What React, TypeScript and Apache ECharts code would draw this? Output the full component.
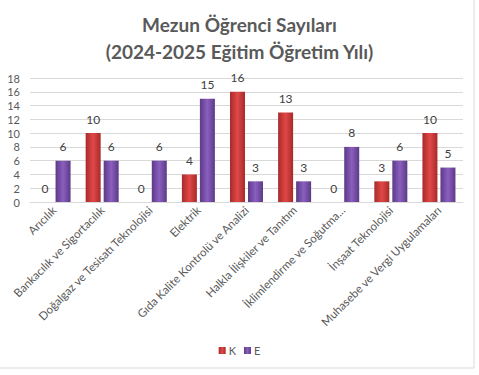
import React, { useEffect, useRef } from "react";
import * as echarts from "echarts";

const categories = [
  "Arıcılık",
  "Bankacılık ve Sigortacılık",
  "Doğalgaz ve Tesisatı Teknolojisi",
  "Elektrik",
  "Gıda Kalite Kontrolü ve Analizi",
  "Halkla İlişkiler ve Tanıtım",
  "İklimlendirme ve Soğutma...",
  "İnşaat Teknolojisi",
  "Muhasebe ve Vergi Uygulamaları",
];
const kValues = [0, 10, 0, 4, 16, 13, 0, 3, 10];
const eValues = [6, 6, 6, 15, 3, 3, 8, 6, 5];
const yTicks = { min: 0, max: 18, interval: 2 };

const grad = (dark: string, mid: string) =>
  new echarts.graphic.LinearGradient(0, 0, 1, 0, [
    { offset: 0, color: dark },
    { offset: 0.5, color: mid },
    { offset: 1, color: dark },
  ]);

export default function App() {
  const ref = useRef<HTMLDivElement>(null);
  useEffect(() => {
    if (!ref.current) return;
    const chart = echarts.init(ref.current, null, { renderer: "svg" });
    const font = "Lato, 'Open Sans', sans-serif";
    const labelCfg = {
      show: true,
      position: "top" as const,
      distance: 8,
      color: "#404040",
      fontSize: 12,
      fontFamily: font,
    };
    chart.setOption({
      animation: false,
      backgroundColor: "#ffffff",
      title: {
        text: "Mezun Öğrenci Sayıları\n(2024-2025 Eğitim Öğretim Yılı)",
        left: "center",
        top: 6,
        textStyle: {
          fontSize: 19,
          fontWeight: "bold",
          color: "#595959",
          fontFamily: font,
          lineHeight: 27,
        },
      },
      legend: {
        bottom: 14,
        left: "center",
        itemWidth: 7,
        itemHeight: 7,
        itemGap: 8,
        icon: "rect",
        textStyle: { color: "#595959", fontSize: 11, fontFamily: font, padding: [0, 0, 0, -2] },
        data: ["K", "E"],
      },
      grid: { left: 30, right: 16, top: 78, bottom: 173, containLabel: false },
      xAxis: {
        type: "category",
        data: categories,
        axisLine: { show: true, lineStyle: { color: "#d9d9d9" } },
        axisTick: { show: false },
        axisLabel: {
          rotate: 45,
          interval: 0,
          color: "#595959",
          fontSize: 11.5,
          fontFamily: font,
          margin: 6,
        },
      },
      yAxis: {
        type: "value",
        min: yTicks.min,
        max: yTicks.max,
        interval: yTicks.interval,
        axisLine: { show: false },
        axisTick: { show: false },
        splitLine: { lineStyle: { color: "#d9d9d9" } },
        axisLabel: { color: "#595959", fontSize: 11, fontFamily: font, margin: 10 },
      },
      series: [
        {
          name: "K",
          type: "bar",
          data: kValues,
          barWidth: 15,
          barGap: "20%",
          itemStyle: { color: grad("#a82a2a", "#e04848") },
          label: labelCfg,
        },
        {
          name: "E",
          type: "bar",
          data: eValues,
          barWidth: 15,
          itemStyle: { color: grad("#5c3a86", "#8a5fbf") },
          label: labelCfg,
        },
      ],
      graphic: [
        {
          type: "line",
          shape: { x1: 474, y1: 0, x2: 474, y2: 368 },
          style: { stroke: "#d9d9d9", lineWidth: 1 },
        },
        {
          type: "line",
          shape: { x1: 0, y1: 368, x2: 474, y2: 368 },
          style: { stroke: "#d9d9d9", lineWidth: 1 },
        },
      ],
    });
    return () => chart.dispose();
  }, []);
  return <div ref={ref} style={{ width: 479, height: 375, position: "absolute", left: 0, top: 0 }} />;
}
